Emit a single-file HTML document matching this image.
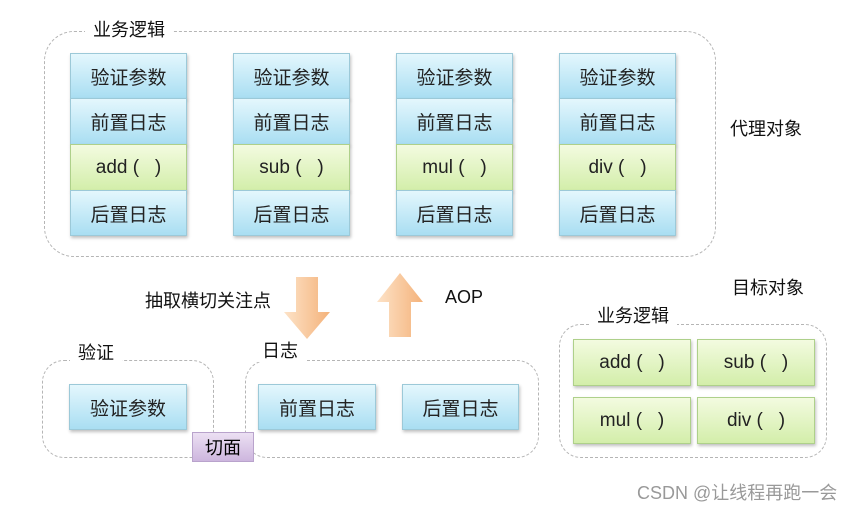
<!DOCTYPE html>
<html><head><meta charset="utf-8"><style>
body{margin:0;width:863px;height:508px;background:#fff;position:relative;overflow:hidden;font-family:"Liberation Sans","Noto Sans CJK SC",sans-serif;}
.a{position:absolute}
.dash{position:absolute;border:1.5px dashed #b5b5b5;border-radius:30px;}
.lbl{position:absolute;background:#fff;font-size:18px;color:#111;padding:0 8px;line-height:22px;}
.b{position:absolute;box-sizing:border-box;border:1px solid #9cc9d8;background:linear-gradient(#e4f7fd,#a9def2);font-size:19px;color:#222;display:flex;align-items:center;justify-content:center;box-shadow:1px 2px 3px rgba(0,0,0,.25);white-space:pre;}
.g{background:linear-gradient(#f3fbe0,#d3eeaa);border-color:#aed08a;}
.t{position:absolute;font-size:18px;color:#111;}
</style></head><body>
<div class="dash" style="left:44px;top:31px;width:670px;height:224px"></div>
<div class="lbl" style="left:85px;top:19px">业务逻辑</div>

<div class="b" style="left:70px;top:53px;width:117px;height:46px">验证参数</div>
<div class="b" style="left:70px;top:98px;width:117px;height:47px">前置日志</div>
<div class="b g" style="left:70px;top:144px;width:117px;height:47px">add (   )</div>
<div class="b" style="left:70px;top:190px;width:117px;height:46px">后置日志</div>

<div class="b" style="left:233px;top:53px;width:117px;height:46px">验证参数</div>
<div class="b" style="left:233px;top:98px;width:117px;height:47px">前置日志</div>
<div class="b g" style="left:233px;top:144px;width:117px;height:47px">sub (   )</div>
<div class="b" style="left:233px;top:190px;width:117px;height:46px">后置日志</div>

<div class="b" style="left:396px;top:53px;width:117px;height:46px">验证参数</div>
<div class="b" style="left:396px;top:98px;width:117px;height:47px">前置日志</div>
<div class="b g" style="left:396px;top:144px;width:117px;height:47px">mul (   )</div>
<div class="b" style="left:396px;top:190px;width:117px;height:46px">后置日志</div>

<div class="b" style="left:559px;top:53px;width:117px;height:46px">验证参数</div>
<div class="b" style="left:559px;top:98px;width:117px;height:47px">前置日志</div>
<div class="b g" style="left:559px;top:144px;width:117px;height:47px">div (   )</div>
<div class="b" style="left:559px;top:190px;width:117px;height:46px">后置日志</div>

<div class="t" style="left:730px;top:115px">代理对象</div>

<svg class="a" style="left:280px;top:270px" width="150" height="75">
<defs><linearGradient id="o" x1="0" x2="1"><stop offset="0" stop-color="#fde3c8"/><stop offset="1" stop-color="#f4b27a"/></linearGradient></defs>
<polygon points="16,7 38,7 38,42 50,42 27,69 4,42 16,42" fill="url(#o)"/>
<polygon points="109,67 131,67 131,32 143,32 120,3 97,32 109,32" fill="url(#o)"/>
</svg>
<div class="t" style="left:145px;top:287px">抽取横切关注点</div>
<div class="t" style="left:445px;top:287px">AOP</div>

<div class="dash" style="left:42px;top:360px;width:170px;height:96px;border-radius:22px"></div>
<div class="lbl" style="left:70px;top:342px">验证</div>
<div class="b" style="left:69px;top:384px;width:118px;height:46px">验证参数</div>

<div class="dash" style="left:245px;top:360px;width:292px;height:96px;border-radius:22px"></div>
<div class="lbl" style="left:254px;top:340px">日志</div>
<div class="b" style="left:258px;top:384px;width:118px;height:46px">前置日志</div>
<div class="b" style="left:402px;top:384px;width:117px;height:46px">后置日志</div>

<div class="a" style="left:192px;top:432px;width:62px;height:30px;background:linear-gradient(#ece0f3,#cdb6de);border:1px solid #b9a3cc;box-sizing:border-box;font-size:18px;display:flex;align-items:center;justify-content:center">切面</div>

<div class="t" style="left:732px;top:274px">目标对象</div>
<div class="dash" style="left:559px;top:324px;width:266px;height:132px;border-radius:22px"></div>
<div class="lbl" style="left:589px;top:305px">业务逻辑</div>
<div class="b g" style="left:573px;top:339px;width:118px;height:47px">add (   )</div>
<div class="b g" style="left:697px;top:339px;width:118px;height:47px">sub (   )</div>
<div class="b g" style="left:573px;top:397px;width:118px;height:47px">mul (   )</div>
<div class="b g" style="left:697px;top:397px;width:118px;height:47px">div (   )</div>

<div class="a" style="left:637px;top:479px;font-size:18px;color:#999">CSDN @让线程再跑一会</div>
</body></html>
